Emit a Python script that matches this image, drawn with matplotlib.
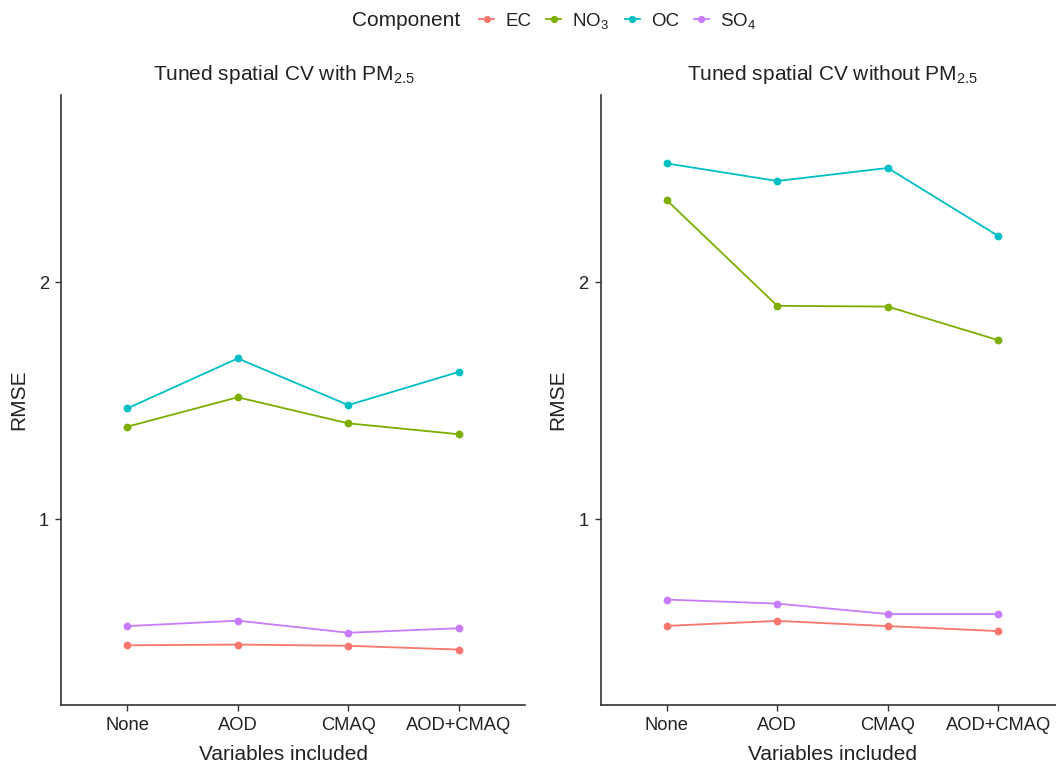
import matplotlib
matplotlib.use("Agg")
import matplotlib.pyplot as plt
from matplotlib.lines import Line2D

plt.rcParams['font.family'] = ['Liberation Sans', 'DejaVu Sans']
plt.rcParams['mathtext.fontset'] = 'custom'
plt.rcParams['mathtext.rm'] = 'Liberation Sans'
plt.rcParams['mathtext.it'] = 'Liberation Sans'
plt.rcParams['mathtext.default'] = 'regular'

categories = ["None", "AOD", "CMAQ", "AOD+CMAQ"]
components = ["EC", "NO$_3$", "OC", "SO$_4$"]
colors = ["#F8766D", "#7CAE00", "#00BFC4", "#C77CFF"]

# Left panel: with PM2.5
with_ec = [0.467, 0.470, 0.465, 0.449]
with_no3 = [1.390, 1.514, 1.404, 1.358]
with_oc = [1.467, 1.678, 1.481, 1.621]
with_so4 = [0.548, 0.571, 0.520, 0.539]

# Right panel: without PM2.5
without_ec = [0.549, 0.570, 0.548, 0.527]
without_no3 = [2.346, 1.900, 1.897, 1.755]
without_oc = [2.501, 2.427, 2.482, 2.195]
without_so4 = [0.660, 0.643, 0.599, 0.599]

titles = ["Tuned spatial CV with PM$_{2.5}$", "Tuned spatial CV without PM$_{2.5}$"]
panels = [[with_ec, with_no3, with_oc, with_so4],
          [without_ec, without_no3, without_oc, without_so4]]

W, H = 1056, 766
fig = plt.figure(figsize=(W / 100, H / 100), dpi=100)

def px(x0, y0, x1, y1):
    return [x0 / W, 1 - y1 / H, (x1 - x0) / W, (y1 - y0) / H]

axes_px = [(61, 95, 525, 705), (600.5, 95, 1064.5, 705)]
title_cx = [284, 833]
xlabel_cx = [283.5, 832.5]

for ax_i, (rect, series, title) in enumerate(zip(axes_px, panels, titles)):
    ax = fig.add_axes(px(*rect))
    xs = list(range(len(categories)))
    for vals, col in zip(series, colors):
        ax.plot(xs, vals, color=col, lw=1.3, marker='o', ms=4.6, mec=col, mfc=col)
    ax.set_xlim(-0.6, len(categories) - 1 + 0.6)
    ax.set_ylim(0.215, 2.79)
    ax.set_yticks([1, 2])
    ax.set_yticklabels(["1", "2"])
    ax.set_xticks(xs)
    ax.set_xticklabels(categories)
    for s in ['top', 'right']:
        ax.spines[s].set_visible(False)
    for s in ['left', 'bottom']:
        ax.spines[s].set_color('#333333')
        ax.spines[s].set_linewidth(1.2)
    ax.tick_params(axis='both', length=4, width=1, color='#333333',
                   labelsize=13.2, labelcolor='#222222', pad=4.5)
    ax.set_xlabel("Variables included", fontsize=15, color='#222222')
    ax.set_ylabel("RMSE", fontsize=15, color='#222222', labelpad=8)
    x0, y0, x1, y1 = rect
    ax.xaxis.set_label_coords((xlabel_cx[ax_i] - x0) / (x1 - x0), -(745 - y1) / (y1 - y0))
    fig.text(title_cx[ax_i] / W, 1 - 75 / H, title, ha='center', va='center',
             fontsize=15, color='#222222')

handles = [Line2D([0], [0], color=c, lw=1.3, marker='o', ms=4.2) for c in colors]
fig.text(352 / W, 1 - 21 / H, "Component", ha='left', va='center', fontsize=15, color='#222222')
fig.legend(handles, components, loc='center left', bbox_to_anchor=(479 / W, 1 - 21 / H),
           ncol=4, frameon=False, fontsize=13.5, handlelength=0.8, handletextpad=0.6,
           columnspacing=0.8, borderpad=0, borderaxespad=0, labelcolor='#222222')

fig.savefig("out.png", dpi=100)
